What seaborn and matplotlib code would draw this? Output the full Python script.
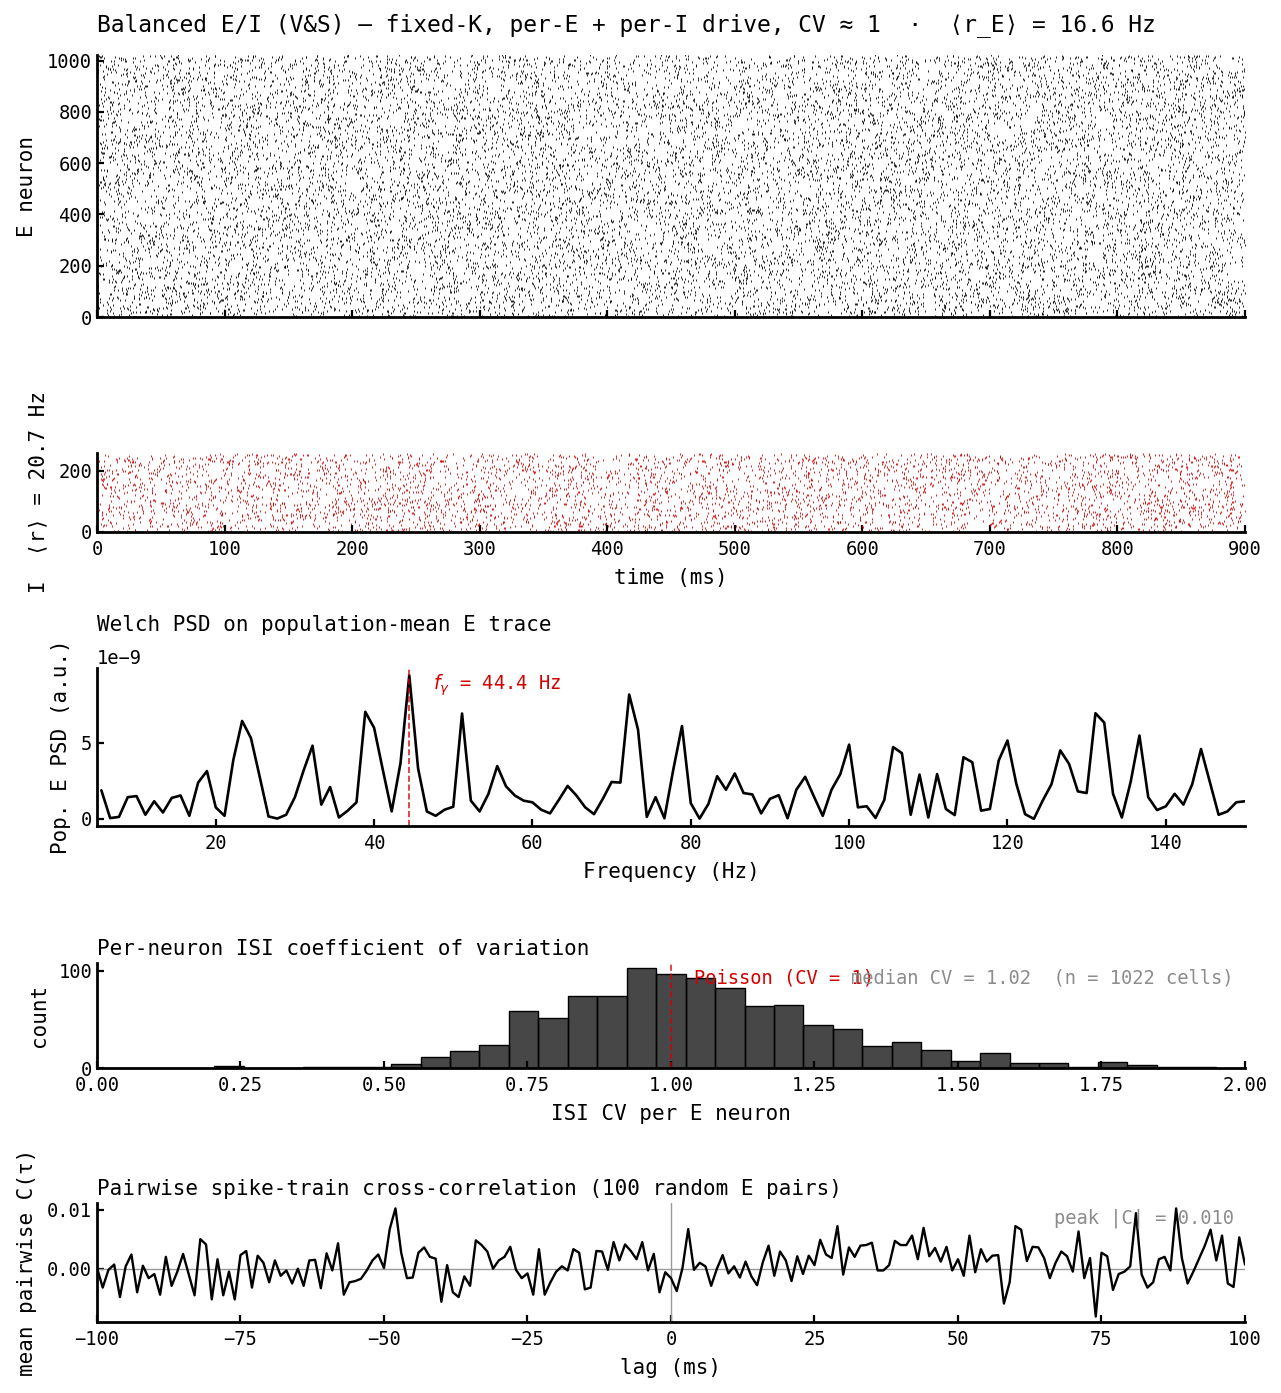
import numpy as np
import pandas as pd
import seaborn as sns
import matplotlib.pyplot as plt
from matplotlib.ticker import MultipleLocator

#%% values
# raster: only the population rates are readable (from the labels)
rate_E = 16.6      # Hz
rate_I = 20.7      # Hz
n_E = 1022
n_I = 256
t_max = 900.0      # ms

# Welch PSD, bins k * (1/0.9 s), k = 5..135, units of 1e-9
psd_k0 = 5
psd_vals = [1.88, 0.05, 0.13, 1.43, 1.5, 0.27, 1.16, 0.42, 1.38, 1.54, 0.2, 2.39,
            3.15, 0.76, 0.2, 3.88, 6.45, 5.33, 2.77, 0.16, 0.02, 0.27, 1.43, 3.21,
            4.82, 0.94, 2.1, 0.09, 0.54, 1.09, 7.05, 6.0, 3.21, 0.49, 3.66, 9.46,
            3.33, 0.49, 0.2, 0.6, 0.8, 6.94, 1.2, 0.49,
            1.65, 3.48, 2.14, 1.54, 1.2, 1.09, 0.6, 0.36, 1.25, 2.17, 1.54, 0.76,
            0.31, 1.32, 2.43, 2.39, 8.19, 5.89, 0.13, 1.43, 0.04, 3.21, 6.12, 1.03,
            0.02, 0.98, 2.81, 1.92, 2.99, 1.7, 1.61, 0.36, 1.32, 1.56, 0.04, 1.92,
            2.77, 1.47, 0.2, 1.92, 2.95, 4.89, 0.76, 0.83, 0.06,
            1.25, 4.73, 4.33, 0.27, 2.92, 0.09, 2.95, 0.65, 0.25, 4.06, 3.73, 0.54,
            0.65, 3.84, 5.16, 2.32, 0.31, 0.0, 1.2, 2.28, 4.51, 3.62, 1.81, 1.7,
            6.96, 6.34, 1.65, 0.09, 2.43, 5.49, 1.43, 0.58, 0.83, 1.65, 0.94, 2.28,
            4.6, 2.43, 0.27, 0.49, 1.09, 1.16]
f_gamma = 44.4

# ISI CV histogram
cv_left = 0.2047
cv_width = 0.0513
cv_counts = [2, 0, 0, 1, 1, 1, 4, 11, 18, 24, 59, 52, 74, 74, 103, 97, 93, 82,
             64, 65, 44, 40, 23, 27, 19, 7, 15, 5, 5, 1, 6, 3, 1, 1]
cv_median = 1.02

# cross-correlation, lags -100..100 ms, units of 1e-3
xc_vals = [0.2, -3.2, -0.2, 0.7, -4.8, 0.4, 2.4, -4.0, 0.5, -1.6, -0.9, -4.4, 2.0,
           -2.9, -0.5, 2.5, -1.0, -4.5, 5.0, 4.1, -5.2, 1.6, -4.5, -0.5, -5.2, 2.3,
           3.0, -3.2, 2.2, 1.0, -2.3, 1.4, -1.2, -0.3, -2.5, 0.0, -2.9, 1.4, 1.5,
           -3.3, 2.6, -0.3, 4.3, -4.4, -2.3, -2.1, -1.7, -0.3, 1.4, 2.4, 0.1, 6.7,
           10.2, 2.7, -1.6, -1.5, 2.7, 3.6, 2.0, 1.7, -5.6, 0.6, -4.0, -4.8, -1.3,
           -2.9, 4.8, 4.0, 2.9, 0.0, 1.4, 2.0, 3.7, -0.2, -1.6, -0.8, -4.4, 3.3,
           -4.4, -2.3, -0.5, 0.4, -0.3, 3.3, 2.7, -3.5, -3.2, 3.0, 2.9, -0.2, 4.5,
           1.4, 4.1, 3.0, 1.6, 4.5, -0.3, 2.5, -4.0, -0.6, -1.6, -3.8, 0.1, 6.7,
           -0.2, 1.0, 0.4, -2.9, 0.0, 2.3, -0.8, 0.4, -1.5, 1.2, -1.3, -2.8, 1.1,
           3.9, -1.2, 2.9, 1.4, -2.1, 2.1, -0.9, 2.2, 0.6, 4.9, 2.4, 1.8, 7.2, -1.0,
           3.6, 2.0, 3.9, 4.0, 4.4, -0.3, -0.3, 0.6, 4.7, 4.0, 4.0, 5.6, 1.6, 6.9,
           2.1, 3.5, 1.2, 3.7, -0.3, 1.6, -1.2, 5.6, -0.6, 3.3, 1.2, 2.2, 2.3, -5.9,
           -2.3, 7.2, 6.6, 1.3, 3.7, 3.6, 1.8, -1.6, 1.0, 2.9, 2.1, -0.5, 6.3, -1.6,
           1.8, -8.1, 2.7, 2.1, -3.6, -0.9, -0.5, 0.4, 9.4, -1.0, -3.2, -2.3, 1.6,
           2.0, -0.3, 10.2, 1.8, -2.5, -0.5, 1.7, 3.9, 6.6, 1.4, 5.6, -2.5, -3.1,
           5.3, 0.7]

#%% tables
freqs = (np.arange(len(psd_vals)) + psd_k0) / 0.9
psd = pd.DataFrame({'f': freqs, 'p': np.array(psd_vals) * 1e-9})

edges = [cv_left + cv_width * k for k in range(len(cv_counts) + 1)]
cv = pd.DataFrame({'cv': [e + cv_width / 2 for e in edges[:-1]], 'n': cv_counts})

xc = pd.DataFrame({'lag': np.arange(-100, 101), 'c': np.array(xc_vals) * 1e-3})

# spike rasters: individual spikes cannot be read, only the rates -> fixed-seed texture
rng = np.random.default_rng(7)
nsE = int(round(rate_E * t_max / 1000 * n_E))
nsI = int(round(rate_I * t_max / 1000 * n_I))
spE = pd.DataFrame({'t': rng.uniform(0, t_max, nsE), 'i': rng.integers(0, n_E, nsE)})
spI = pd.DataFrame({'t': rng.uniform(0, t_max, nsI), 'i': rng.integers(0, n_I, nsI)})

#%% style
sns.set_style('ticks')
plt.rcParams['font.family'] = ['DejaVu Sans Mono', 'DejaVu Sans']
plt.rcParams.update({
    'xtick.direction': 'in', 'ytick.direction': 'in',
    'xtick.major.size': 5, 'ytick.major.size': 5,
    'xtick.major.width': 1.6, 'ytick.major.width': 1.6,
    'xtick.major.pad': 5.5,
    'xtick.labelsize': 13.5, 'ytick.labelsize': 13.5,
    'axes.labelsize': 15, 'axes.titlesize': 15,
    'axes.labelpad': 7,
    'axes.linewidth': 2.0,
    'axes.edgecolor': 'black',
    'text.color': 'black', 'axes.labelcolor': 'black',
    'xtick.color': 'black', 'ytick.color': 'black',
})
red = '#d40000'

fig = plt.figure(figsize=(12.81, 13.93), dpi=100)
L, W = 0.0757, 0.8962
axE = fig.add_axes([L, 0.7724, W, 0.1881])
axI = fig.add_axes([L, 0.6181, W, 0.0567])
axP = fig.add_axes([L, 0.4070, W, 0.1134])
axH = fig.add_axes([L, 0.2333, W, 0.0754])
axC = fig.add_axes([L, 0.0510, W, 0.0854])

# E raster
sns.scatterplot(data=spE, x='t', y='i', marker='|', s=3.5, color='k',
                linewidth=0.6, legend=False, ax=axE)
axE.set_xlim(0, t_max)
axE.set_ylim(0, n_E)
axE.yaxis.set_major_locator(MultipleLocator(200))
axE.xaxis.set_major_locator(MultipleLocator(100))
axE.tick_params(labelbottom=False)
axE.set_xlabel('')
axE.set_ylabel('E neuron')
axE.set_title('Balanced E/I (V&S) — fixed-K, per-E + per-I drive, CV ≈ 1  ·  ⟨r_E⟩ = 16.6 Hz',
              loc='left', fontsize=16.5, pad=17)

# I raster
sns.scatterplot(data=spI, x='t', y='i', marker='|', s=3.5, color=red,
                linewidth=0.6, legend=False, ax=axI)
axI.set_xlim(0, t_max)
axI.set_ylim(0, n_I + 2)
axI.yaxis.set_major_locator(MultipleLocator(200))
axI.xaxis.set_major_locator(MultipleLocator(100))
axI.set_xlabel('time (ms)')
axI.set_ylabel('I  ⟨r⟩ = 20.7 Hz')

# PSD
sns.lineplot(data=psd, x='f', y='p', color='k', linewidth=1.9, estimator=None, ax=axP)
axP.axvline(f_gamma, color=red, ls='--', lw=1.2, alpha=0.85)
axP.text(f_gamma + 3, max(psd_vals) * 0.93e-9, r'$f_\gamma$ = %.1f Hz' % f_gamma,
         color=red, fontsize=13.5, va='center')
axP.set_xlim(5, 150)
axP.yaxis.set_major_locator(MultipleLocator(5e-9))
axP.set_xlabel('Frequency (Hz)')
axP.set_ylabel('Pop. E PSD (a.u.)')
axP.set_title('Welch PSD on population-mean E trace', loc='left', pad=13)
axP.yaxis.get_offset_text().set_fontsize(13.5)

# ISI CV histogram
sns.histplot(data=cv, x='cv', weights='n', bins=edges, color='k', alpha=0.72,
             edgecolor='k', linewidth=1.0, ax=axH)
axH.axvline(1.0, color=red, ls='--', lw=1.2, alpha=0.85)
axH.text(1.04, 0.95, 'Poisson (CV = 1)', color=red, fontsize=13.5, va='top',
         transform=axH.get_xaxis_transform())
axH.text(0.99, 0.95, 'median CV = %.2f  (n = %d cells)' % (cv_median, sum(cv_counts)),
         color='0.55', fontsize=13.5, ha='right', va='top', transform=axH.transAxes)
axH.set_xlim(0, 2)
axH.xaxis.set_major_locator(MultipleLocator(0.25))
axH.xaxis.set_major_formatter('{x:.2f}')
axH.yaxis.set_major_locator(MultipleLocator(100))
axH.set_xlabel('ISI CV per E neuron')
axH.set_ylabel('count')
axH.set_title('Per-neuron ISI coefficient of variation', loc='left')

# cross-correlation
axC.axhline(0, color='0.6', lw=1.0)
axC.axvline(0, color='0.6', lw=1.0)
sns.lineplot(data=xc, x='lag', y='c', color='k', linewidth=1.7, estimator=None, ax=axC)
axC.text(0.99, 0.95, 'peak |C| = %.3f' % (np.abs(xc['c']).max()), color='0.55',
         fontsize=13.5, ha='right', va='top', transform=axC.transAxes)
axC.set_xlim(-100, 100)
axC.xaxis.set_major_locator(MultipleLocator(25))
axC.yaxis.set_major_locator(MultipleLocator(0.01))
axC.set_xlabel('lag (ms)')
axC.set_ylabel('mean pairwise C(τ)')
axC.set_title('Pairwise spike-train cross-correlation (100 random E pairs)', loc='left')

for ax in [axE, axI, axP, axH, axC]:
    sns.despine(ax=ax)

fig.savefig('out.png', dpi=100)
